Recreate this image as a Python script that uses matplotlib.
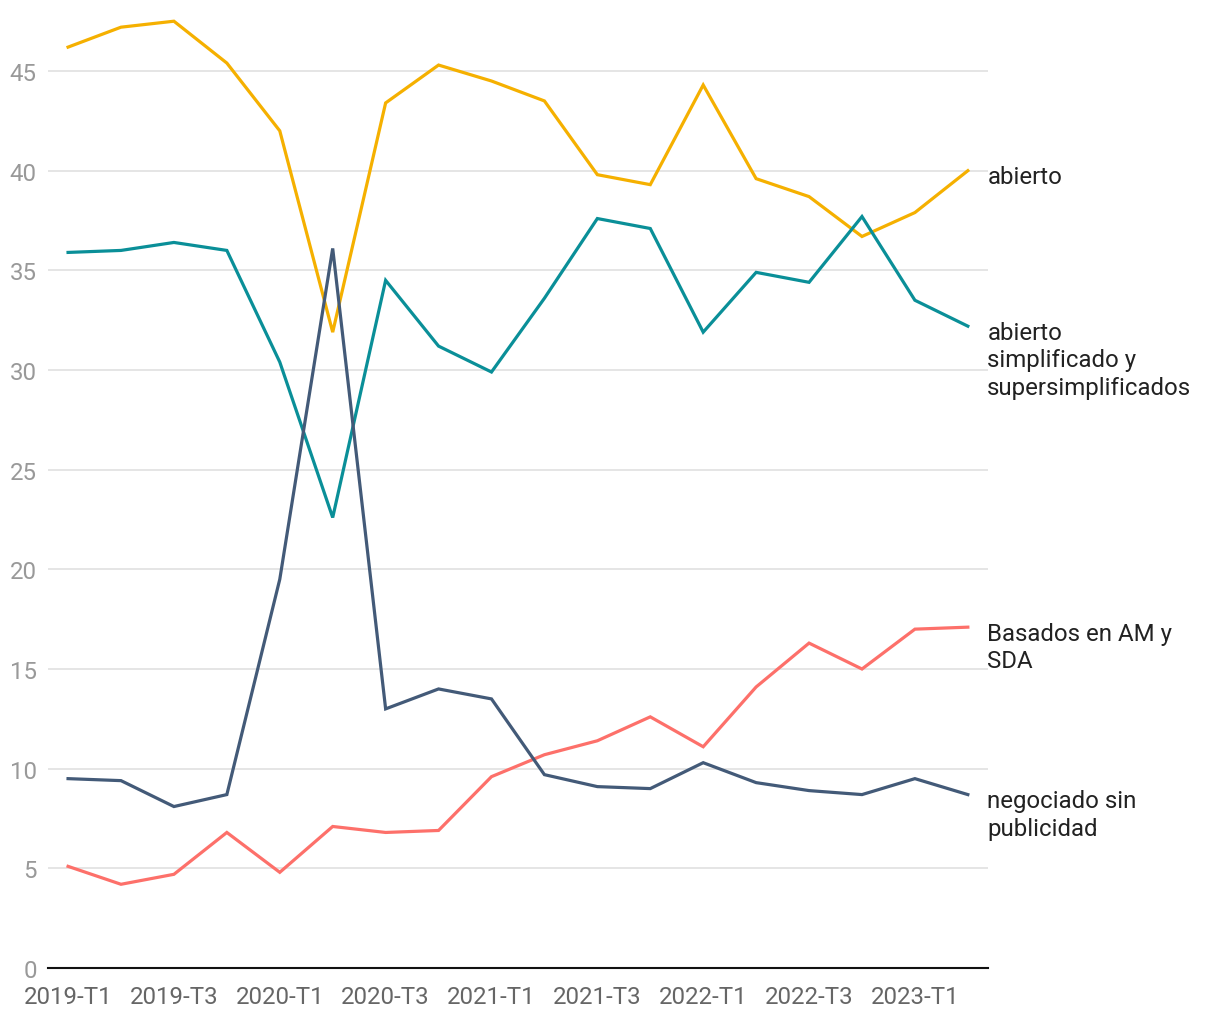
import numpy as np
import matplotlib
matplotlib.use("Agg")
import matplotlib.pyplot as plt

plt.rcParams['font.family'] = ['Roboto', 'DejaVu Sans']

periods = ['2019-T1', '2019-T2', '2019-T3', '2019-T4',
           '2020-T1', '2020-T2', '2020-T3', '2020-T4',
           '2021-T1', '2021-T2', '2021-T3', '2021-T4',
           '2022-T1', '2022-T2', '2022-T3', '2022-T4',
           '2023-T1', '2023-T2']

abierto = [46.2, 47.2, 47.5, 45.4, 42.0, 31.9, 43.4, 45.3, 44.5, 43.5,
           39.8, 39.3, 44.3, 39.6, 38.7, 36.7, 37.9, 40.0]
simplificado = [35.9, 36.0, 36.4, 36.0, 30.4, 22.6, 34.5, 31.2, 29.9, 33.6,
                37.6, 37.1, 31.9, 34.9, 34.4, 37.7, 33.5, 32.2]
negociado = [9.5, 9.4, 8.1, 8.7, 19.5, 36.1, 13.0, 14.0, 13.5, 9.7,
             9.1, 9.0, 10.3, 9.3, 8.9, 8.7, 9.5, 8.7]
basados = [5.1, 4.2, 4.7, 6.8, 4.8, 7.1, 6.8, 6.9, 9.6, 10.7,
           11.4, 12.6, 11.1, 14.1, 16.3, 15.0, 17.0, 17.1]

series = [
    (abierto, '#F5B000', 'abierto'),
    (simplificado, '#0A8F98', 'abierto\nsimplificado y\nsupersimplificados'),
    (basados, '#FD706A', 'Basados en AM y\nSDA'),
    (negociado, '#435A78', 'negociado sin\npublicidad'),
]

fig = plt.figure(figsize=(12.2, 10.2), dpi=100)
ax = fig.add_axes([0.0393, 0.05, 0.7705, 0.938])

x = np.arange(len(periods))
for vals, col, lab in series:
    ax.plot(x, vals, color=col, lw=2.3, solid_joinstyle='miter', zorder=3)
    ax.annotate(lab, xy=(x[-1], vals[-1]), xytext=(14, 4),
                textcoords='offset points', va='top', ha='left',
                fontsize=17.3, color='#222222', linespacing=1.27,
                annotation_clip=False)

ax.set_xlim(-0.38, len(periods) - 1 + 0.38)
ax.set_ylim(0, 48)
ax.set_yticks(np.arange(0, 50, 5))
ax.set_xticks(x[::2])
ax.set_xticklabels(periods[::2])
ax.grid(axis='y', color='#e0e0e0', lw=1.2)
ax.set_axisbelow(True)
for s in ['top', 'right', 'left']:
    ax.spines[s].set_visible(False)
ax.spines['bottom'].set_color('#111111')
ax.spines['bottom'].set_linewidth(1.5)
ax.tick_params(axis='y', length=0, pad=8, labelsize=17.3, labelcolor='#999999')
ax.tick_params(axis='x', length=0, pad=12, labelsize=17.3, labelcolor='#666666')

fig.savefig('out.png', dpi=100)
